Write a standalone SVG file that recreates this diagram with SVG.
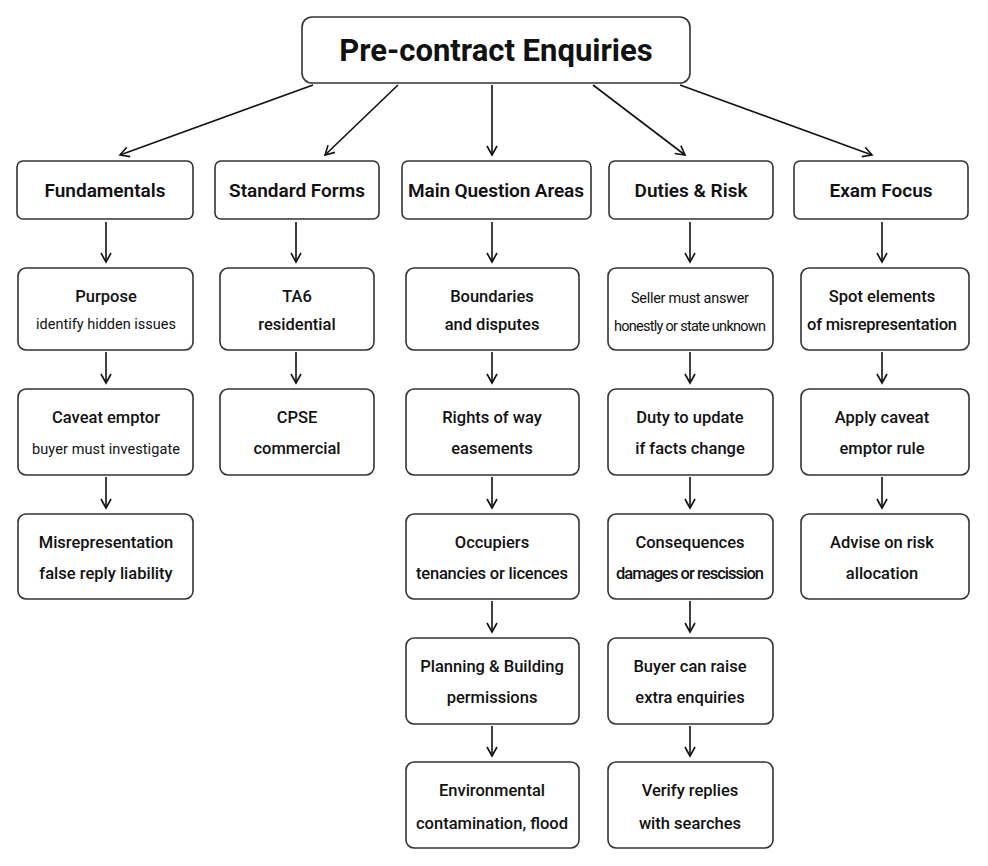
<svg xmlns="http://www.w3.org/2000/svg" width="988" height="866" viewBox="0 0 988 866">
<defs>
<marker id="ah" markerWidth="12" markerHeight="12" refX="10" refY="6" orient="auto" markerUnits="userSpaceOnUse">
<path d="M1,1 L10,6 L1,11" fill="none" stroke="#111" stroke-width="1.6"/>
</marker>
<style>
rect{fill:#fff;stroke:#333;stroke-width:1.6}
text{font-family:Roboto,"Liberation Sans",sans-serif;fill:#111;text-anchor:middle}
.t{font-size:31px;font-weight:bold}
.h{font-size:19px;font-weight:600}
.n{font-size:16.5px;font-weight:500}
.s{font-size:14.5px}
#c line{stroke:#111;stroke-width:1.6;marker-end:url(#ah)}
</style>
</defs>
<rect width="988" height="866" style="fill:#fff;stroke:none"/>
<g id="c">
<line x1="313" y1="85" x2="120" y2="155"/>
<line x1="398" y1="85" x2="325" y2="155"/>
<line x1="492" y1="85" x2="492" y2="155"/>
<line x1="593" y1="85" x2="685" y2="155"/>
<line x1="680" y1="85" x2="872" y2="155"/>
<line x1="106" y1="222" x2="106" y2="262"/><line x1="106" y1="352" x2="106" y2="383"/><line x1="106" y1="477" x2="106" y2="508"/>
<line x1="296" y1="222" x2="296" y2="262"/><line x1="296" y1="352" x2="296" y2="383"/>
<line x1="492" y1="222" x2="492" y2="262"/><line x1="492" y1="352" x2="492" y2="383"/><line x1="492" y1="477" x2="492" y2="508"/><line x1="492" y1="601" x2="492" y2="632"/><line x1="492" y1="726" x2="492" y2="756"/>
<line x1="690" y1="222" x2="690" y2="262"/><line x1="690" y1="352" x2="690" y2="383"/><line x1="690" y1="477" x2="690" y2="508"/><line x1="690" y1="601" x2="690" y2="632"/><line x1="690" y1="726" x2="690" y2="756"/>
<line x1="882" y1="222" x2="882" y2="262"/><line x1="882" y1="352" x2="882" y2="383"/><line x1="882" y1="477" x2="882" y2="508"/>
</g>
<g id="title"><rect x="302" y="17" width="388" height="66" rx="10"/><text class="t" x="496" y="61">Pre-contract Enquiries</text></g>
<g id="h1"><rect x="17" y="161" width="176" height="58" rx="6"/><text class="h" x="105" y="197">Fundamentals</text></g>
<g id="h2"><rect x="215" y="161" width="164" height="58" rx="6"/><text class="h" x="297" y="197">Standard Forms</text></g>
<g id="h3"><rect x="402" y="161" width="189" height="58" rx="6"/><text class="h" x="496" y="197" textLength="176">Main Question Areas</text></g>
<g id="h4"><rect x="609" y="161" width="164" height="58" rx="6"/><text class="h" x="691" y="197">Duties &amp; Risk</text></g>
<g id="h5"><rect x="794" y="161" width="174" height="58" rx="6"/><text class="h" x="881" y="197">Exam Focus</text></g>

<g id="a1"><rect x="18" y="268" width="175" height="82" rx="8"/><text class="n" x="106" y="302">Purpose</text><text class="s" x="106" y="329">identify hidden issues</text></g>
<g id="a2"><rect x="18" y="389" width="175" height="86" rx="8"/><text class="n" x="106" y="423">Caveat emptor</text><text class="s" x="106" y="454" textLength="148">buyer must investigate</text></g>
<g id="a3"><rect x="18" y="514" width="175" height="85" rx="8"/><text class="n" x="106" y="548">Misrepresentation</text><text class="n" x="106" y="579">false reply liability</text></g>

<g id="b1"><rect x="220" y="268" width="154" height="82" rx="8"/><text class="n" x="297" y="302">TA6</text><text class="n" x="297" y="330">residential</text></g>
<g id="b2"><rect x="220" y="389" width="154" height="86" rx="8"/><text class="n" x="297" y="423">CPSE</text><text class="n" x="297" y="454">commercial</text></g>

<g id="c1"><rect x="406" y="268" width="173" height="82" rx="8"/><text class="n" x="492" y="302">Boundaries</text><text class="n" x="492" y="330">and disputes</text></g>
<g id="c2"><rect x="406" y="389" width="173" height="86" rx="8"/><text class="n" x="492" y="423">Rights of way</text><text class="n" x="492" y="454">easements</text></g>
<g id="c3"><rect x="406" y="514" width="173" height="85" rx="8"/><text class="n" x="492" y="548">Occupiers</text><text class="n" x="492" y="579" textLength="152">tenancies or licences</text></g>
<g id="c4"><rect x="406" y="638" width="173" height="86" rx="8"/><text class="n" x="492" y="672">Planning &amp; Building</text><text class="n" x="492" y="703">permissions</text></g>
<g id="c5"><rect x="406" y="762" width="173" height="86" rx="8"/><text class="n" x="492" y="796">Environmental</text><text class="n" x="492" y="829" textLength="152">contamination, flood</text></g>

<g id="d1"><rect x="608" y="268" width="165" height="82" rx="8"/><text class="s" x="690" y="303" textLength="118">Seller must answer</text><text class="s" x="690" y="331" textLength="152">honestly or state unknown</text></g>
<g id="d2"><rect x="608" y="389" width="165" height="86" rx="8"/><text class="n" x="690" y="423">Duty to update</text><text class="n" x="690" y="454">if facts change</text></g>
<g id="d3"><rect x="608" y="514" width="165" height="85" rx="8"/><text class="n" x="690" y="548">Consequences</text><text class="n" x="690" y="579" textLength="148">damages or rescission</text></g>
<g id="d4"><rect x="608" y="638" width="165" height="86" rx="8"/><text class="n" x="690" y="672">Buyer can raise</text><text class="n" x="690" y="703">extra enquiries</text></g>
<g id="d5"><rect x="608" y="762" width="165" height="86" rx="8"/><text class="n" x="690" y="796">Verify replies</text><text class="n" x="690" y="829">with searches</text></g>

<g id="e1"><rect x="801" y="268" width="168" height="82" rx="8"/><text class="n" x="882" y="302">Spot elements</text><text class="n" x="882" y="330" textLength="150">of misrepresentation</text></g>
<g id="e2"><rect x="801" y="389" width="168" height="86" rx="8"/><text class="n" x="882" y="423">Apply caveat</text><text class="n" x="882" y="454">emptor rule</text></g>
<g id="e3"><rect x="801" y="514" width="168" height="85" rx="8"/><text class="n" x="882" y="548">Advise on risk</text><text class="n" x="882" y="579">allocation</text></g>
</svg>
